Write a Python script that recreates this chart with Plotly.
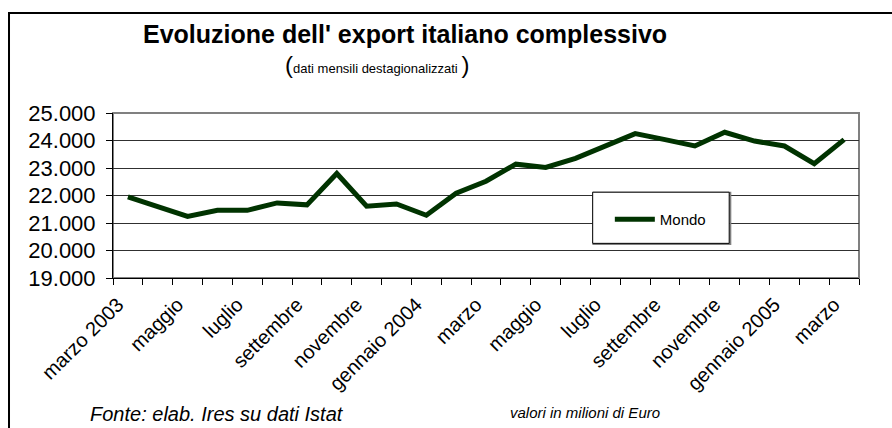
import plotly.graph_objects as go

months = ["marzo 2003", "aprile", "maggio", "giugno", "luglio", "agosto", "settembre",
          "ottobre", "novembre", "dicembre", "gennaio 2004", "febbraio", "marzo",
          "aprile", "maggio", "giugno", "luglio", "agosto", "settembre", "ottobre",
          "novembre", "dicembre", "gennaio 2005", "febbraio", "marzo"]
mondo = [21950, 21610, 21240, 21460, 21460, 21730, 21660, 22800, 21610, 21690,
         21280, 22080, 22520, 23140, 23020, 23350, 23800, 24250, 24030, 23800,
         24300, 23980, 23800, 23160, 24030]
y_ticks = [19000, 20000, 21000, 22000, 23000, 24000, 25000]
y_ticktext = ["19.000", "20.000", "21.000", "22.000", "23.000", "24.000", "25.000"]

x = list(range(1, len(months) + 1))
label_pos = x[::2]
label_text = months[::2]
boundaries = [i + 0.5 for i in range(0, len(months) + 1)]

FONT = "Liberation Sans, Arial, sans-serif"
GREEN = "#003300"

fig = go.Figure()
fig.add_trace(go.Scatter(x=x, y=mondo, mode="lines", name="Mondo",
                         line=dict(color=GREEN, width=5), cliponaxis=False))
# invisible trace for boundary tick marks
fig.add_trace(go.Scatter(x=[boundaries[0], boundaries[-1]], y=[y_ticks[0], y_ticks[0]],
                         xaxis="x2", mode="lines", line=dict(width=0),
                         showlegend=False, hoverinfo="skip"))

fig.update_layout(
    width=892, height=428,
    margin=dict(l=113, r=33, t=113, b=150, autoexpand=False),
    paper_bgcolor="white", plot_bgcolor="white",
    font=dict(family=FONT, color="black"),
    showlegend=True,
    legend=dict(x=0.666, y=0.355, xanchor="left", yanchor="middle",
                bgcolor="rgba(0,0,0,0)", borderwidth=0,
                font=dict(size=15, family=FONT), itemwidth=40),
    xaxis=dict(range=[0.5, len(months) + 0.5], tickmode="array",
               tickvals=label_pos, ticktext=label_text, tickangle=-45,
               ticks="", showgrid=False, zeroline=False, automargin=False,
               ticklabelshift=-10, ticklabelstandoff=6,
               showline=True, linecolor="black", linewidth=1,
               tickfont=dict(size=20, family=FONT)),
    xaxis2=dict(range=[0.5, len(months) + 0.5], overlaying="x", anchor="y",
                tickmode="array", tickvals=boundaries, ticktext=[""] * len(boundaries),
                ticks="outside", ticklen=6, tickcolor="black", tickwidth=1,
                automargin=False,
                showgrid=False, zeroline=False, showticklabels=False, side="bottom"),
    yaxis=dict(range=[19000, 25000], tickmode="array", tickvals=y_ticks,
               ticktext=y_ticktext, ticks="outside", ticklen=6, tickcolor="black",
               showgrid=True, gridcolor="#303030", gridwidth=1, zeroline=False,
               showline=True, linecolor="black", linewidth=1, automargin=False,
               ticklabelstandoff=6,
               tickfont=dict(size=22, family=FONT)),
    shapes=[
        # plot area frame (gray)
        dict(type="rect", xref="paper", yref="paper", x0=0, x1=1, y0=0, y1=1,
             line=dict(color="#808080", width=2), layer="below"),
        # outer chart border
        dict(type="rect", xref="paper", yref="paper", x0=-0.1394, x1=1.2,
             y0=-1.2, y1=1.606, line=dict(color="black", width=2)),
        # legend box shadow + box
        dict(type="rect", xref="paper", yref="paper", x0=0.644, x1=0.8275,
             y0=0.2055, y1=0.5165, line=dict(color="#808080", width=2)),
        dict(type="rect", xref="paper", yref="paper", x0=0.643, x1=0.826,
             y0=0.21, y1=0.52, line=dict(color="black", width=1),
             fillcolor="white", layer="above"),
    ],
    annotations=[
        dict(text="<b>Evoluzione dell' export italiano complessivo</b>",
             xref="paper", yref="paper", x=(405 - 113) / 746, y=(278 - 34) / 165.3,
             showarrow=False, xanchor="center", yanchor="middle",
             font=dict(size=25, family=FONT)),
        dict(text="<span style='font-size:24px'>(</span>dati mensili destagionalizzati "
                  "<span style='font-size:24px'>)</span>",
             xref="paper", yref="paper", x=(283 - 113) / 746, y=(278 - 64) / 165.3,
             showarrow=False, xanchor="left", yanchor="middle",
             font=dict(size=13, family=FONT)),
        dict(text="<i>Fonte: elab. Ires su dati Istat</i>",
             xref="paper", yref="paper", x=(88 - 113) / 746, y=(278 - 414) / 165.3,
             showarrow=False, xanchor="left", yanchor="middle",
             font=dict(size=20, family=FONT)),
        dict(text="<i>valori in milioni di Euro</i>",
             xref="paper", yref="paper", x=(508 - 113) / 746, y=(278 - 413) / 165.3,
             showarrow=False, xanchor="left", yanchor="middle",
             font=dict(size=15, family=FONT)),
    ],
)

fig.write_html("out.html", config={"displayModeBar": False},
               post_script="document.body.style.margin='0';"
                           "document.body.style.overflow='hidden';")
